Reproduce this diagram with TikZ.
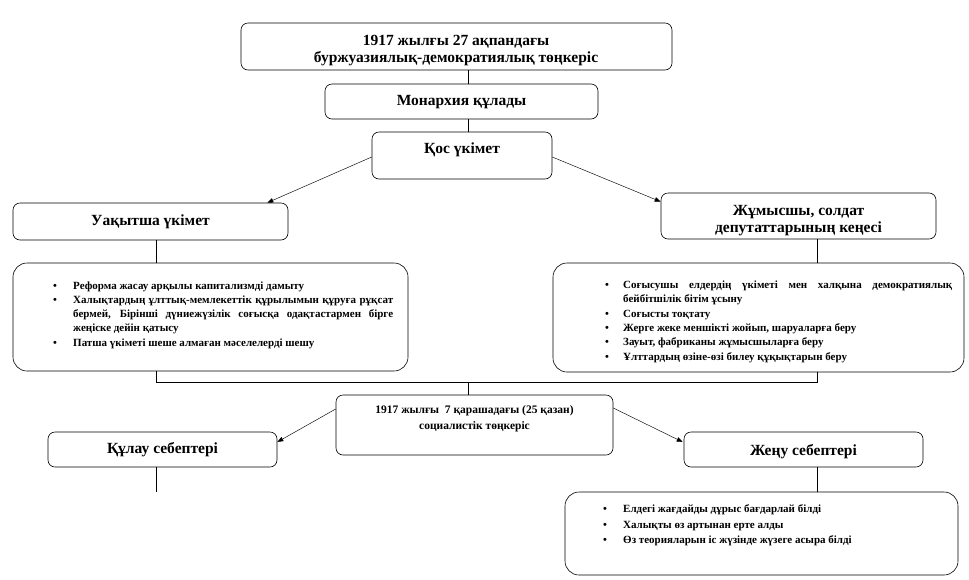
\documentclass[tikz,border=0pt]{standalone}
\usepackage{fontspec}
\setmainfont{Liberation Serif}
\usetikzlibrary{arrows.meta}
\newcommand{\bitem}[2]{\par\noindent\hangindent=#1\hangafter=1\makebox[#1][l]{\textbullet}#2}
\begin{document}
\begin{tikzpicture}[x=1pt,y=-1pt,
  box/.style={draw, line width=0.6pt, rounded corners=7pt, inner sep=0pt},
  lbox/.style={draw, line width=0.6pt, rounded corners=14pt, inner sep=0pt},
  hd/.style={font=\bfseries\fontsize{15.5}{17}\selectfont, align=center, inner sep=0pt},
  sm/.style={font=\bfseries\fontsize{11.5}{16}\selectfont, align=center, inner sep=0pt},
  lst/.style={font=\bfseries\fontsize{11}{14.3}\selectfont, align=justify, inner sep=0pt, anchor=north west},
  conn/.style={line width=0.6pt},
  arr/.style={line width=0.45pt, -{Triangle[length=6pt,width=4.5pt]}}
]
\fill[white] (0,0) rectangle (969,579);
\useasboundingbox (0,0) rectangle (969,579);

% boxes
\node[box, minimum width=431pt, minimum height=47pt] (top) at (456.5,46.5) {};
\node[box, minimum width=273pt, minimum height=35pt] (mon) at (461.5,101.5) {};
\node[box, minimum width=180pt, minimum height=47pt] (dual) at (462,155.5) {};
\node[box, minimum width=275pt, minimum height=37pt] (vrem) at (150.5,221.5) {};
\node[box, minimum width=275pt, minimum height=46pt] (sov) at (798.5,216) {};
\node[lbox, minimum width=395pt, minimum height=108pt] (llist) at (210.5,317) {};
\node[lbox, minimum width=411pt, minimum height=109pt] (rlist) at (758.5,317.5) {};
\node[box, minimum width=277pt, minimum height=60pt] (oct) at (474.5,425) {};
\node[box, minimum width=229pt, minimum height=35pt] (kul) at (162.5,449.5) {};
\node[box, minimum width=239pt, minimum height=35pt] (zhen) at (803.5,449.5) {};
\node[lbox, minimum width=393pt, minimum height=83pt] (blist) at (761.5,533.5) {};

% texts
\node[hd] (topt) at (456,51) {1917 жылғы 27 ақпандағы\\буржуазиялық-демократиялық төңкеріс};
\node[hd] (mont) at (461.5,102) {Монархия құлады};
\node[hd] (dualt) at (462,150) {Қос үкімет};
\node[hd] (vremt) at (150.5,222) {Уақытша үкімет};
\node[hd] (sovt) at (798.5,220.5) {Жұмысшы, солдат\\депутаттарының кеңесі};
\node[sm] (octt) at (474.5,419) {1917 жылғы\ \ 7 қарашадағы (25 қазан)\\социалистік төңкеріс};
\node[hd] (kult) at (162.5,450) {Құлау себептері};
\node[hd] (zhent) at (803.5,452) {Жеңу себептері};

\node[lst, text width=340pt] (llt) at (53,274.5) {%
\bitem{20pt}{Реформа жасау арқылы капитализмді дамыту}
\bitem{20pt}{Халықтардың ұлттық-мемлекеттік құрылымын құруға рұқсат\linebreak бермей, Бірінші дүниежүзілік соғысқа одақтастармен бірге\linebreak жеңіске дейін қатысу}
\bitem{20pt}{Патша үкіметі шеше алмаған мәселелерді шешу}};

\node[lst, text width=347pt] (rlt) at (605,274) {%
\bitem{18pt}{Соғысушы елдердің үкіметі мен халқына демократиялық\linebreak бейбітшілік бітім ұсыну}
\bitem{18pt}{Соғысты тоқтату}
\bitem{18pt}{Жерге жеке меншікті жойып, шаруаларға беру}
\bitem{18pt}{Зауыт, фабриканы жұмысшыларға беру}
\bitem{18pt}{Ұлттардың өзіне-өзі билеу құқықтарын беру}};

\node[lst, text width=330pt, font=\bfseries\fontsize{11}{15.5}\selectfont] (blt) at (603,497) {%
\bitem{20pt}{Елдегі жағдайды дұрыс бағдарлай білді}
\bitem{20pt}{Халықты өз артынан ерте алды}
\bitem{20pt}{Өз теорияларын іс жүзінде жүзеге асыра білді}};

% connectors
\draw[conn] ([xshift=6.5pt]mon.north) -- ([xshift=6.5pt]mon.north |- top.south);
\draw[conn] ([xshift=6pt]dual.north) -- ([xshift=6pt]dual.north |- mon.south);
\draw[arr] ([yshift=-1.5pt]dual.west) -- ([xshift=-21pt]vrem.north east);
\draw[arr] ([yshift=-1.5pt]dual.east) -- ([yshift=-9pt]sov.north west);
\draw[conn] ([xshift=5.5pt]vrem.south) -- ([xshift=5.5pt]vrem.south |- llist.north);
\draw[conn] ([xshift=18.5pt]sov.south) -- ([xshift=18.5pt]sov.south |- rlist.north);
\draw[conn] ([xshift=-54.5pt]llist.south) -- ++(0,11) coordinate (j0) -| ([xshift=58.5pt]rlist.south);
\coordinate (j) at (468,382.5);
\draw[conn] (j) -- (j |- oct.north);
\draw[arr] ([yshift=16pt]oct.west) -- ([yshift=7.5pt]kul.east);
\draw[arr] ([yshift=17pt]oct.east) -- ([yshift=7.5pt,xshift=-1pt]zhen.west);
\coordinate (kend) at ([xshift=-6.5pt]kul.south |- 0,492);
\draw[conn] ([xshift=-6.5pt]kul.south) -- (kend);
\draw[conn] ([xshift=13.5pt]zhen.south) -- ([xshift=13.5pt]zhen.south |- blist.north);
\end{tikzpicture}
\end{document}
